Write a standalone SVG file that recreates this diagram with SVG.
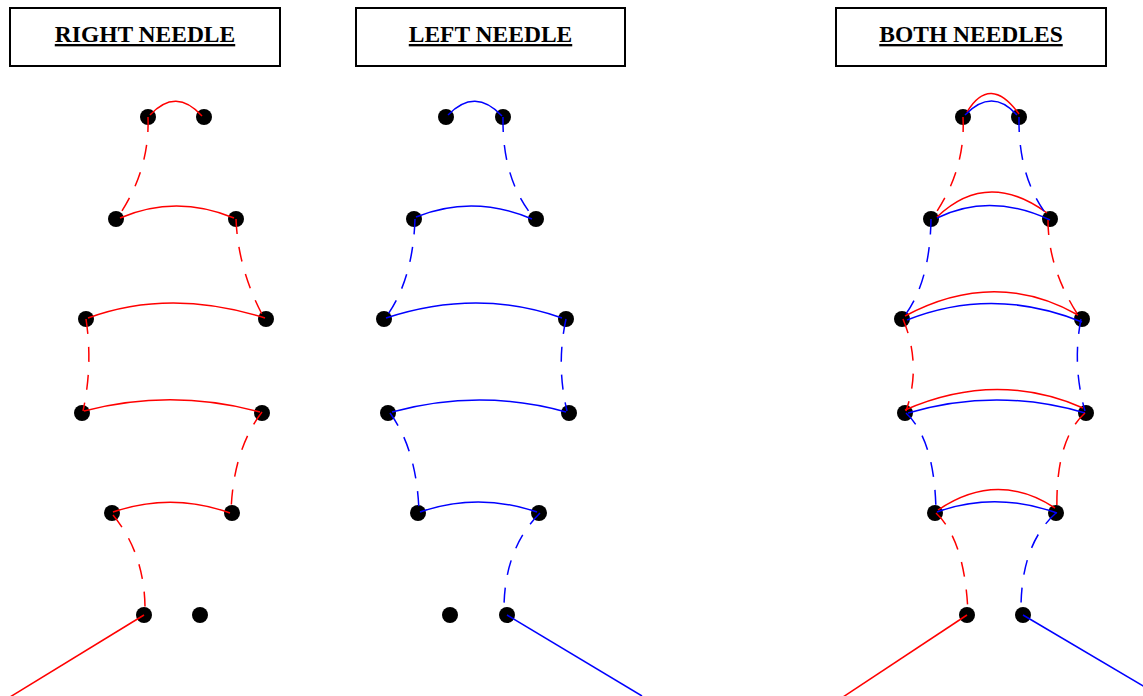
<svg xmlns="http://www.w3.org/2000/svg" width="1143" height="696" viewBox="0 0 1143 696">
<style>
.box{fill:#fff;stroke:#000;stroke-width:2}
.ttl{font-family:"Liberation Serif","Times New Roman",serif;font-weight:bold;font-size:23.5px;text-anchor:middle;text-decoration:underline;fill:#000}
.dot{fill:#000}
.r{fill:none;stroke:#ff0000;stroke-width:1.5}
.b{fill:none;stroke:#0000ff;stroke-width:1.5}
.d{stroke-dasharray:15 13}
</style>
<rect width="1143" height="696" fill="#fff"/>
<g id="title-right"><rect class="box" x="10" y="8" width="270" height="58"/><text class="ttl" x="145" y="42">RIGHT NEEDLE</text></g>
<g id="title-left"><rect class="box" x="356" y="8" width="269" height="58"/><text class="ttl" x="490.5" y="42">LEFT NEEDLE</text></g>
<g id="title-both"><rect class="box" x="836" y="8" width="270" height="58"/><text class="ttl" x="971" y="42">BOTH NEEDLES</text></g>

<g id="nodes-right">
<circle id="r1a" class="dot" cx="148" cy="117" r="8"/><circle id="r1b" class="dot" cx="204" cy="117" r="8"/>
<circle id="r2a" class="dot" cx="116" cy="219" r="8"/><circle id="r2b" class="dot" cx="236" cy="219" r="8"/>
<circle id="r3a" class="dot" cx="86" cy="319" r="8"/><circle id="r3b" class="dot" cx="266" cy="319" r="8"/>
<circle id="r4a" class="dot" cx="82" cy="413" r="8"/><circle id="r4b" class="dot" cx="262" cy="413" r="8"/>
<circle id="r5a" class="dot" cx="112" cy="513" r="8"/><circle id="r5b" class="dot" cx="232" cy="513" r="8"/>
<circle id="r6a" class="dot" cx="144" cy="615" r="8"/><circle id="r6b" class="dot" cx="200" cy="615" r="8"/>
</g>
<g id="nodes-left">
<circle id="l1a" class="dot" cx="446" cy="117" r="8"/><circle id="l1b" class="dot" cx="503" cy="117" r="8"/>
<circle id="l2a" class="dot" cx="414" cy="219" r="8"/><circle id="l2b" class="dot" cx="536" cy="219" r="8"/>
<circle id="l3a" class="dot" cx="384" cy="319" r="8"/><circle id="l3b" class="dot" cx="566" cy="319" r="8"/>
<circle id="l4a" class="dot" cx="388" cy="413" r="8"/><circle id="l4b" class="dot" cx="569" cy="413" r="8"/>
<circle id="l5a" class="dot" cx="418" cy="513" r="8"/><circle id="l5b" class="dot" cx="539" cy="513" r="8"/>
<circle id="l6a" class="dot" cx="450" cy="615" r="8"/><circle id="l6b" class="dot" cx="507" cy="615" r="8"/>
</g>
<g id="nodes-both">
<circle id="b1a" class="dot" cx="963" cy="117" r="8"/><circle id="b1b" class="dot" cx="1019" cy="117" r="8"/>
<circle id="b2a" class="dot" cx="931" cy="219" r="8"/><circle id="b2b" class="dot" cx="1050" cy="219" r="8"/>
<circle id="b3a" class="dot" cx="902" cy="319" r="8"/><circle id="b3b" class="dot" cx="1082" cy="319" r="8"/>
<circle id="b4a" class="dot" cx="905" cy="413" r="8"/><circle id="b4b" class="dot" cx="1086" cy="413" r="8"/>
<circle id="b5a" class="dot" cx="935" cy="513" r="8"/><circle id="b5b" class="dot" cx="1056" cy="513" r="8"/>
<circle id="b6a" class="dot" cx="967" cy="615" r="8"/><circle id="b6b" class="dot" cx="1023" cy="615" r="8"/>
</g>

<g id="connectors">
<g id="conn-right">
<path class="r" d="M150,115 Q176,87 202,116"/>
<path class="r" d="M120,218 Q176,194 234,218"/>
<path class="r" d="M88,318 Q170,288 265,318"/>
<path class="r" d="M84,411 Q172,388 260,412"/>
<path class="r" d="M113,512 Q172,492 230,513"/>
<path class="r d" d="M148,117 Q150,170 118,217"/>
<path class="r d" d="M236,219 Q238,270 264,318"/>
<path class="r d" d="M86,319 Q93,365 83,411"/>
<path class="r d" d="M262,412 Q233,450 231,512"/>
<path class="r d" d="M113,515 Q146,555 145,613"/>
<path class="r" d="M144,615 L10,697"/>
</g>
<g id="conn-left">
<path class="b" d="M448,115 Q475,87 502,116"/>
<path class="b" d="M416,217 Q473,194 532,219"/>
<path class="b" d="M386,318 Q478,288 562,318"/>
<path class="b" d="M392,412 Q480,388 566,412"/>
<path class="b" d="M420,512 Q478,492 537,512"/>
<path class="b d" d="M503,117 Q502,180 534,218"/>
<path class="b d" d="M415,219 Q413,280 386,317"/>
<path class="b d" d="M566,319 Q556,365 567,411"/>
<path class="b d" d="M390,413 Q417,450 419,512"/>
<path class="b d" d="M540,513 Q503,550 504,613"/>
<path class="b" d="M507,615 L642,696"/>
</g>
<g id="conn-both">
<path class="r" d="M967,112 Q990,74 1019,114"/>
<path class="r" d="M937,217 Q987,169 1047,213"/>
<path class="r" d="M905,316 Q995,268 1078,315"/>
<path class="r" d="M905,410 Q996,370 1083,408"/>
<path class="r" d="M938,510 Q997,470 1055,508"/>
<path class="b" d="M965,115 Q992,87 1017,115"/>
<path class="b" d="M937,218 Q990,192 1050,220"/>
<path class="b" d="M907,320 Q993,286 1082,322"/>
<path class="b" d="M908,413 Q997,387 1085,413"/>
<path class="b" d="M937,512 Q995,491 1057,513"/>
<path class="r d" d="M963,117 Q966,170 933,217"/>
<path class="r d" d="M1048,220 Q1048,270 1080,318"/>
<path class="r d" d="M903,319 Q922,365 906,411"/>
<path class="r d" d="M1085,413 Q1055,440 1057,512"/>
<path class="r d" d="M936,513 Q965,540 968,613"/>
<path class="b d" d="M1019,117 Q1018,180 1050,219"/>
<path class="b d" d="M931,219 Q930,285 902,319"/>
<path class="b d" d="M1081,319 Q1072,365 1085,411"/>
<path class="b d" d="M906,413 Q935,440 936,512"/>
<path class="b d" d="M1056,513 Q1020,545 1021,613"/>
<path class="r" d="M967,615 L843,697"/>
<path class="b" d="M1023,615 L1160,696"/>
</g>
</g>
</svg>
